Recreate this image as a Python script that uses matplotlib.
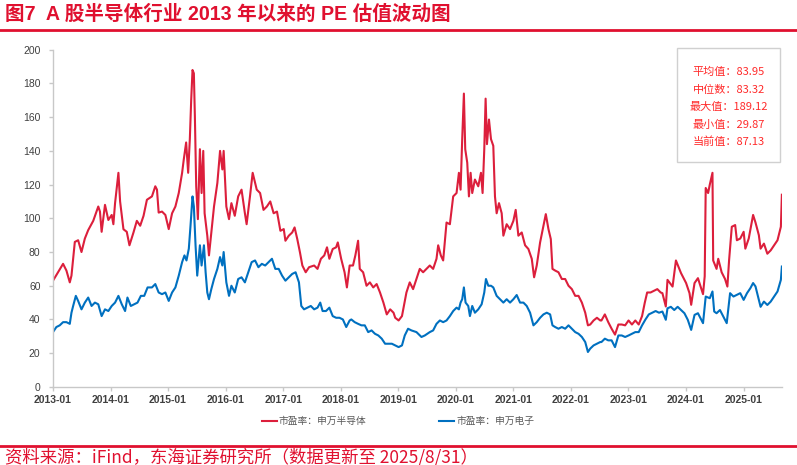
import numpy as np
import pandas as pd
import matplotlib
matplotlib.use("Agg")
import matplotlib.pyplot as plt
import matplotlib.dates as mdates
from matplotlib.patches import Rectangle

plt.rcParams['font.family'] = ['Noto Sans CJK SC', 'DejaVu Sans']

# months since 2013-01-01
semi_t = [0, 1.05, 2.1, 2.8, 3.5, 3.85, 4.55, 5.24, 5.94, 6.64, 7.34, 8.39, 9.44, 9.79, 10.14,
          10.84, 11.54, 12.24, 12.59, 12.94, 13.64, 13.99, 14.69, 15.38, 15.94, 16.78, 17.48,
          18.18, 18.88, 19.58, 20.63, 21.33, 21.68, 22.03, 22.73, 23.43, 24.13, 24.83, 25.52,
          26.22, 26.92, 27.27, 27.76, 28.18, 28.53, 28.81, 29.09, 29.37, 29.58, 29.86, 30.21,
          30.63, 30.98, 31.33, 31.61, 32.17, 32.52, 33.01, 33.57, 34.27, 34.83, 35.31, 35.58,
          36.14, 36.70, 37.20, 37.90, 38.61, 39.31, 40.01, 40.37, 41.07, 41.63, 42.48, 43.18,
          43.89, 44.59, 45.30, 46.00, 46.70, 47.41, 48.11, 48.46, 49.17, 49.87, 50.37, 50.93,
          51.49, 51.99, 52.69, 53.39, 54.45, 55.15, 55.86, 56.56, 57.13, 57.62, 58.32, 59.03,
          59.38, 60.08, 60.79, 61.28, 61.85, 62.55, 63.04, 63.61, 63.96, 64.66, 65.37, 66.07,
          66.77, 67.48, 68.18, 68.89, 69.59, 70.30, 71.00, 71.35, 72.06, 72.76, 73.69, 74.38,
          75.08, 75.78, 76.47, 77.17, 77.87, 78.56, 79.26, 79.96, 80.31, 80.86, 81.35, 82.05,
          82.75, 83.44, 84.14, 84.63, 84.98, 85.32, 85.67, 85.95, 86.37, 86.72, 87.07, 87.41,
          87.97, 88.67, 89.23, 89.57, 89.92, 90.20, 90.48, 90.90, 91.32, 91.80, 92.15, 92.50,
          92.99, 93.55, 93.90, 94.59, 95.29, 95.99, 96.47, 97.03, 97.73, 98.43, 99.12, 99.82,
          100.31, 100.86, 101.56, 102.26, 102.75, 103.30, 103.79, 104.14, 104.70, 105.39,
          106.09, 106.79, 107.48, 108.18, 108.88, 109.57, 110.27, 110.97, 111.53, 112.01,
          112.71, 113.41, 114.10, 114.35, 115.06, 115.77, 116.47, 117.18, 117.88, 118.59,
          119.29, 120.0, 120.71, 121.41, 122.12, 122.82, 123.39, 123.88, 124.59, 125.29,
          126.0, 126.70, 127.06, 127.77, 128.12, 129.18, 129.88, 130.94, 132.0, 132.71,
          133.06, 133.76, 134.47, 135.18, 135.53, 135.88, 136.09, 136.59, 136.94, 137.5,
          137.65, 138.35, 138.70, 139.41, 140.12, 140.61, 140.96, 141.53, 142.23, 142.59,
          143.29, 144.0, 144.35, 145.06, 145.97, 146.47, 147.17, 147.53, 148.23, 148.94,
          149.64, 150.35, 151.06, 151.76, 151.97]
semi_pe = [63, 68, 73, 69, 62, 66, 86, 87, 80, 88, 93, 98.5, 107, 104, 92,
           108, 99, 102, 96.5, 109, 127, 110, 93.5, 92, 84, 91.6, 98.5,
           95.6, 101.5, 111, 113, 119, 117, 103.4, 104, 102, 93.6, 103, 107,
           115, 127, 135, 145, 127, 147, 170, 188, 186, 160.6, 119, 99.5,
           141, 115, 140, 103, 89.7, 78, 91.6, 107, 121, 140, 129, 140,
           107, 99.5, 109, 101.5, 113, 117, 103, 96.5, 113, 127, 117, 115,
           105, 107, 110, 103, 104, 92.6, 93.6, 86.7, 89.7, 91.6, 94.6, 87.7,
           79.8, 72, 68, 71, 72, 70, 76, 78, 82.8, 76, 81.8, 82.8,
           85.7, 76, 68, 59, 72, 72, 78, 86.7, 70, 68, 60, 62,
           59, 61, 56, 50, 43, 46, 44, 41, 39.4, 42, 56, 62,
           58, 64, 70, 68, 70, 72, 70, 76, 84, 78, 75, 97.5,
           96.5, 113, 115, 127, 117, 147, 174, 141, 133, 113, 127, 115,
           123, 119, 127, 115, 141, 171, 144, 158.6, 147, 143, 113, 103,
           109, 103, 89.7, 96.5, 93.6, 98.5, 105, 89.7, 91.6, 84, 81.8, 76,
           65, 72, 85.7, 95.6, 102.5, 93.6, 87.7, 70, 69, 68,
           64, 64, 60, 58, 54, 54, 50, 44, 36.5, 37,
           39.4, 41, 39.4, 39.4, 43, 38.4, 34.5, 31, 37, 37,
           36.5, 39.4, 37, 39.4, 37, 42, 50, 56, 56, 57,
           58, 56, 55.6, 47.7, 63.5, 59.5, 75, 67.5, 61.6, 55.6,
           48.7, 61.6, 64.5, 58, 55, 65.6, 118, 115, 120, 127,
           75, 70, 76, 68, 64, 59.5, 75, 95, 96, 87,
           88, 92, 82, 88, 102, 97.5, 90, 82, 85, 79,
           81, 84, 87, 95, 114]

elec_t = [0, 0.70, 1.40, 2.10, 2.80, 3.50, 3.85, 4.20, 4.76, 5.24, 5.94, 6.64, 7.34, 8.04,
          8.74, 9.44, 10.14, 10.84, 11.54, 12.24, 12.94, 13.64, 14.34, 15.03, 15.52, 16.22,
          16.92, 17.62, 18.32, 19.02, 19.72, 20.63, 21.33, 22.03, 22.73, 23.43, 24.13, 24.83,
          25.52, 26.22, 26.92, 27.41, 27.83, 28.32, 28.67, 29.09, 29.37, 29.72, 30.07, 30.63,
          30.98, 31.47, 31.82, 32.17, 32.52, 33.01, 33.57, 34.27, 34.83, 35.31, 35.58, 36.14,
          36.70, 37.20, 37.90, 38.61, 39.31, 40.01, 40.72, 41.42, 42.13, 42.83, 43.54, 44.24,
          44.94, 45.65, 46.35, 47.06, 47.76, 48.46, 49.17, 49.87, 50.58, 51.28, 51.77, 52.34,
          53.04, 53.75, 54.45, 55.15, 55.72, 56.21, 56.92, 57.62, 58.32, 59.03, 59.73, 60.44,
          61.14, 61.85, 62.20, 62.90, 63.61, 64.31, 65.01, 65.72, 66.42, 67.13, 67.83, 68.54,
          69.24, 69.94, 70.65, 71.35, 72.06, 72.76, 73.34, 74.03, 74.73, 75.78, 76.82, 77.52,
          78.56, 79.26, 79.96, 80.66, 81.35, 82.05, 82.75, 83.44, 84.14, 84.63, 84.98, 85.32,
          85.67, 86.02, 86.58, 86.93, 87.41, 87.97, 88.67, 89.37, 89.92, 90.27, 90.76, 91.32,
          91.80, 92.50, 93.20, 93.90, 94.59, 95.29, 95.99, 96.68, 97.38, 98.08, 98.77, 99.47,
          100.17, 100.86, 101.56, 102.26, 102.95, 103.65, 104.14, 104.70, 105.39, 106.09,
          106.79, 107.48, 108.18, 108.88, 109.57, 110.27, 110.97, 111.53, 112.01, 112.71,
          113.41, 114.10, 114.35, 115.06, 115.77, 116.47, 117.18, 117.88, 118.59, 119.29,
          120.0, 120.71, 121.41, 122.12, 122.82, 123.53, 124.23, 124.94, 125.65, 126.35,
          127.06, 127.77, 128.12, 128.82, 129.53, 130.24, 130.94, 131.65, 132.35, 133.06,
          133.76, 134.47, 135.18, 135.53, 136.09, 136.94, 137.50, 137.86, 138.35, 139.06,
          139.76, 140.47, 141.17, 141.88, 142.59, 143.29, 144.0, 144.70, 145.41, 145.97,
          146.47, 147.17, 147.53, 148.23, 148.94, 149.64, 150.35, 151.06, 151.76, 151.97]
elec_pe = [32.5, 35.5, 36.5, 38.4, 38.4, 37.4, 44, 48, 54, 51, 46, 50, 53, 48,
           50, 49, 42, 46, 45, 48, 50, 54, 49, 45, 53, 48,
           49, 50, 54, 54, 59, 59, 61, 56, 55, 56, 51, 56,
           59, 66, 74, 78, 75, 82, 95.6, 113, 107, 84, 66, 84,
           72, 84, 68, 56, 52, 58, 64, 70, 77, 72, 80, 62,
           54, 60, 56, 64, 65, 62, 68, 74, 75, 71, 73, 72,
           74, 76, 70, 70, 66, 63, 65, 67, 68, 62, 48, 46,
           47, 48, 46, 47, 50, 45, 45, 47, 42, 41, 41, 40,
           35.5, 39.4, 40, 38.4, 37.4, 36.5, 36.5, 32.5, 33.5, 31.5, 30.5, 28.6,
           25.6, 25.6, 25.6, 24.6, 23.6, 24.6, 30.5, 34.5, 33.5, 32.5, 29.6, 30.5,
           32.5, 33.5, 37.4, 39.4, 38.4, 39.4, 42, 45, 47, 46, 50, 52,
           59, 50, 48, 42, 48, 44, 46, 49, 56, 64, 60, 60,
           59, 54, 52, 50, 52, 50, 52, 54.5, 50, 50, 48, 44,
           36.5, 38.4, 41, 43, 44, 43, 36.5, 35.5, 34.5, 35.5,
           34.5, 36.5, 34.5, 32.5, 31.5, 29.6, 26.6, 20.7, 22.7, 24.6,
           25.6, 26.6, 26.6, 28.6, 27.6, 27.6, 23.6, 30.5, 30.5, 29.6,
           30.5, 31.5, 32.5, 32.5, 36.5, 40, 43, 44, 45, 44,
           44.7, 39.8, 46.6, 47.5, 45.6, 47.5, 45.6, 43.7, 39.8, 33.8,
           42.7, 43.7, 39.8, 37.8, 53.6, 52.6, 56.6, 44.7, 43.7, 45.6,
           41.7, 37.8, 55.6, 53.6, 54.6, 55.6, 51.6, 55.6, 58.6, 61.6,
           59.6, 51.6, 47.5, 50.6, 48.6, 50.6, 53.6, 56.6, 63.5, 71.4]

series_names = ["市盈率：申万半导体", "市盈率：申万电子"]
stat_labels = ["平均值", "中位数", "最大值", "最小值", "当前值"]
stat_values = ["83.95", "83.32", "189.12", "29.87", "87.13"]
year_ticks = pd.date_range("2013-01-01", "2025-01-01", freq="YS")

base = pd.Timestamp("2013-01-01")
def to_dates(months):
    return base + pd.to_timedelta(np.array(months) * 30.4375, unit="D")

RED = "#DC1F3C"
BLUE = "#0070C0"
TITLE_RED = "#E0102F"

fig = plt.figure(figsize=(7.97, 4.65), dpi=100)
ax = fig.add_axes([0.0665, 0.168, 0.915, 0.725])

ax.plot(to_dates(semi_t), semi_pe, color=RED, lw=1.5, label=series_names[0])
ax.plot(to_dates(elec_t), elec_pe, color=BLUE, lw=1.5, label=series_names[1])

ax.set_ylim(0, 200)
ax.set_yticks(range(0, 201, 20))
ax.set_xlim(base, pd.Timestamp("2025-09-03"))
ax.set_xticks(year_ticks)
ax.xaxis.set_major_formatter(mdates.DateFormatter("%Y-%m"))

for s in ["top", "right"]:
    ax.spines[s].set_visible(False)
for s in ["left", "bottom"]:
    ax.spines[s].set_color("#C8C8C8")
    ax.spines[s].set_linewidth(1)
ax.tick_params(axis="both", colors="#C8C8C8", length=3, width=1, labelcolor="#404040")
ax.tick_params(axis="y", labelsize=7.5, pad=6)
ax.tick_params(axis="x", labelsize=7.5, pad=3)
for lab in ax.get_xticklabels():
    lab.set_fontweight("bold")
    lab.set_family(["Liberation Sans Narrow", "Liberation Sans", "DejaVu Sans"])
for lab in ax.get_yticklabels():
    lab.set_family(["Liberation Sans", "DejaVu Sans"])

leg = fig.legend(loc="center", bbox_to_anchor=(0.4994, 0.0946), ncol=2, frameon=False,
                 fontsize=7, handlelength=1.55, handletextpad=0.2, columnspacing=7.5)
for t in leg.get_texts():
    t.set_color("#595959")

# stats box
fig.patches.append(Rectangle((677 / 797, 1 - 162 / 465), 103 / 797, 114 / 465,
                             transform=fig.transFigure, fill=False,
                             edgecolor="#D0D0D0", lw=1))
for i, (lab, val) in enumerate(zip(stat_labels, stat_values)):
    fig.text(729 / 797, 1 - (72 + i * 17.5) / 465, f"{lab}：{val}", ha="center",
             va="center", fontsize=8, color="#FF2A2A")

# title and source
fig.text(0.006, 1 - 14 / 465, "图7  A 股半导体行业 2013 年以来的 PE 估值波动图",
         fontsize=14.1, fontweight="bold", color=TITLE_RED, va="center", ha="left",
         family=["Liberation Sans", "Noto Sans CJK SC"])
fig.add_artist(plt.Line2D([0, 1], [1 - 30 / 465, 1 - 30 / 465], color=TITLE_RED, lw=2,
                          transform=fig.transFigure))
fig.add_artist(plt.Line2D([0, 1], [1 - 446 / 465, 1 - 446 / 465], color=TITLE_RED, lw=2,
                          transform=fig.transFigure))
fig.text(0.006, 1 - 457 / 465, "资料来源：iFind，东海证券研究所（数据更新至 2025/8/31）",
         fontsize=12.5, color=TITLE_RED, va="center", ha="left")

fig.savefig("out.png", dpi=100)
